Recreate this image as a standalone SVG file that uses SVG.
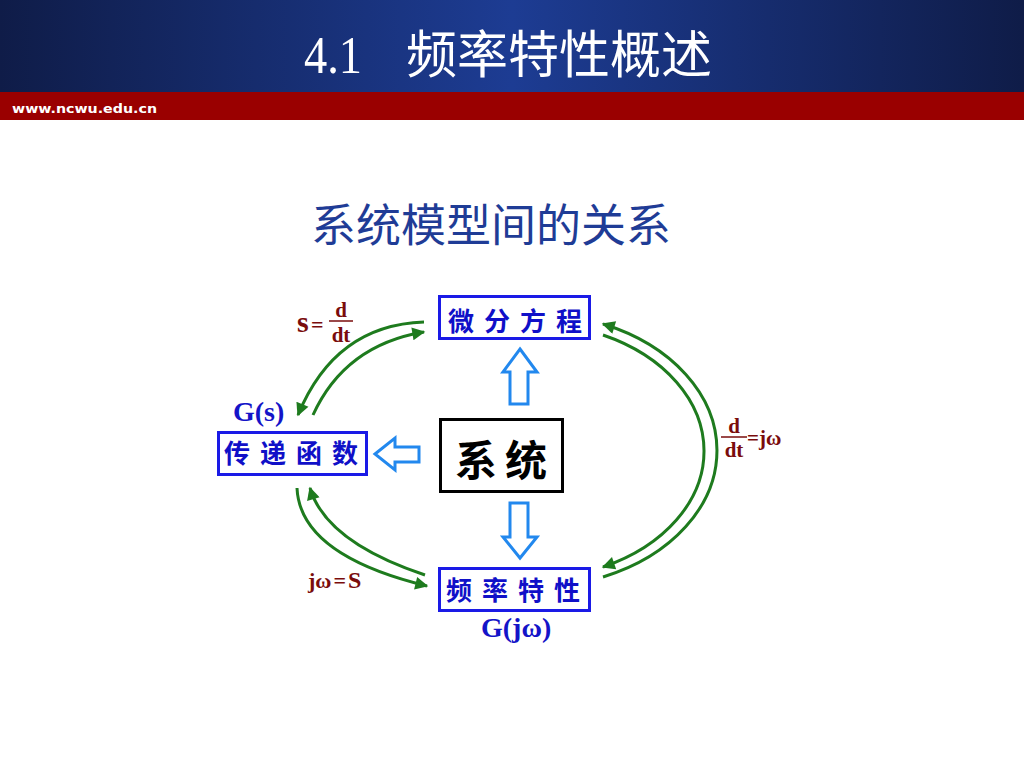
<svg xmlns="http://www.w3.org/2000/svg" width="1024" height="768" viewBox="0 0 1024 768">
<defs>
<linearGradient id="hdr" x1="0" y1="0" x2="1" y2="0">
<stop offset="0" stop-color="#0f1c48"/>
<stop offset="0.5" stop-color="#1d3c93"/>
<stop offset="1" stop-color="#0f1c48"/>
</linearGradient>
<marker id="ah" viewBox="0 0 10 10" refX="9" refY="5" markerUnits="userSpaceOnUse" markerWidth="18" markerHeight="13" orient="auto-start-reverse">
<path d="M0,0 L10,5 L0,10 z" fill="#1e7b1e"/>
</marker>
<style>
.box{fill:#fff;stroke:#1a1ae6;stroke-width:3}
.sys{fill:#fff;stroke:#000;stroke-width:3}
.nt{font-family:"Noto Sans CJK SC",sans-serif;font-weight:700;fill:#1010c8;font-size:26px;letter-spacing:10px}
.hol{fill:#fff;stroke:#2288ee;stroke-width:3;stroke-linejoin:miter}
.arc{fill:none;stroke:#1e7b1e;stroke-width:3}
.red{font-family:"Liberation Serif",serif;font-weight:700;fill:#7a0c0c}
.blu{font-family:"Liberation Serif",serif;font-weight:700;fill:#1414c8;font-size:28px}
.frac{stroke:#7a0c0c;stroke-width:1.5}
</style>
</defs>
<rect width="1024" height="768" fill="#fff"/>
<g id="header">
<rect x="0" y="0" width="1024" height="93" fill="url(#hdr)"/>
<rect x="0" y="92" width="1024" height="28" fill="#9a0000"/>
<text x="12" y="113" font-family="DejaVu Sans,sans-serif" font-weight="700" font-size="13" fill="#fff" textLength="145" lengthAdjust="spacingAndGlyphs">www.ncwu.edu.cn</text>
<text y="73" font-family="Liberation Serif,'Noto Sans CJK SC',serif" font-size="52" fill="#fff"><tspan x="304" textLength="58" lengthAdjust="spacingAndGlyphs">4.1</tspan><tspan> </tspan><tspan x="406" font-family="'Noto Sans CJK SC',sans-serif" font-size="51">频率特性概述</tspan></text>
</g>
<text id="subtitle" x="491" y="242" text-anchor="middle" font-family="'Noto Sans CJK SC',sans-serif" font-size="45" fill="#1f3c96">系统模型间的关系</text>
<g id="connectors">
<polygon class="hol" points="520,349 537,372 528,372 528,404 510,404 510,372 503,372"/>
<polygon class="hol" points="375,454 395,438 395,447 419,447 419,462 395,462 395,470"/>
<polygon class="hol" points="510,503 528,503 528,537 537,537 520,558 503,537 510,537"/>
<path class="arc" d="M424,322 Q335,325 298,415" marker-end="url(#ah)"/>
<path class="arc" d="M313,415 Q345,345 424,332" marker-end="url(#ah)"/>
<path class="arc" d="M297,488 Q300,555 427,586" marker-end="url(#ah)"/>
<path class="arc" d="M425,575 Q326,542 310,488" marker-end="url(#ah)"/>
<path class="arc" d="M603,324 A185,137 0 0 1 603,577" marker-start="url(#ah)"/>
<path class="arc" d="M603,335 A175,128 0 0 1 603,567" marker-end="url(#ah)"/>
<g id="label-s-ddt">
<text class="red" x="297" y="332" font-size="30">s</text>
<text class="red" x="311" y="332" font-size="22">=</text>
<text class="red" x="341" y="317" font-size="21" text-anchor="middle">d</text>
<line class="frac" x1="329" y1="321" x2="353" y2="321"/>
<text class="red" x="341" y="342" font-size="21" text-anchor="middle">dt</text>
</g>
<g id="label-ddt-jw">
<text class="red" x="734" y="433" font-size="21" text-anchor="middle">d</text>
<line class="frac" x1="721" y1="437" x2="747" y2="437"/>
<text class="red" x="734" y="457" font-size="21" text-anchor="middle">dt</text>
<text class="red" x="747" y="445" font-size="21">=jω</text>
</g>
<text id="label-jw-s" class="red" x="308" y="588" font-size="22">jω<tspan dx="2">=</tspan><tspan dx="2" font-size="24">S</tspan></text>
<text id="label-Gs" class="blu" x="233" y="421">G(s)</text>
<text id="label-Gjw" class="blu" x="481" y="637">G(jω)</text>
</g>
<g id="node-weifenfangcheng">
<rect class="box" x="439.5" y="296.5" width="150" height="42"/>
<text class="nt" x="448" y="331">微分方程</text>
</g>
<g id="node-chuandihanshu">
<rect class="box" x="218.5" y="432.5" width="148" height="42"/>
<text class="nt" x="224" y="463">传递函数</text>
</g>
<g id="node-xitong">
<rect class="sys" x="440.5" y="419.5" width="122" height="72"/>
<text x="455" y="476" font-family="'Noto Sans CJK SC',sans-serif" font-weight="700" font-size="42" letter-spacing="8" fill="#000">系统</text>
</g>
<g id="node-pinlvtexing">
<rect class="box" x="439.5" y="568.5" width="150" height="42"/>
<text class="nt" x="446" y="600">频率特性</text>
</g>
</svg>
